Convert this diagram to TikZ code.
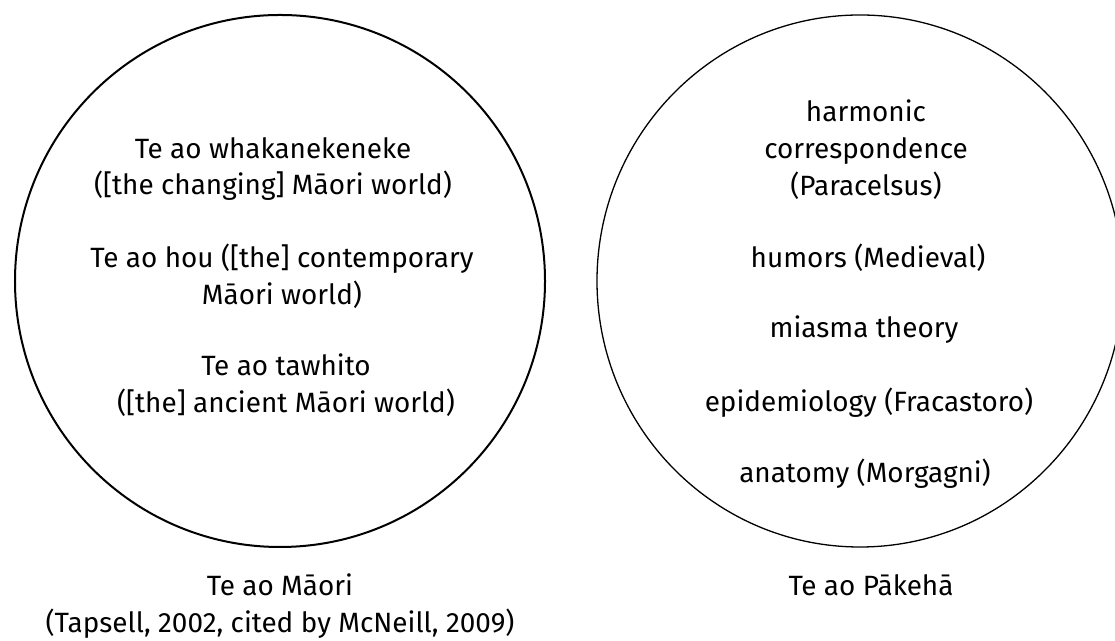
\documentclass[tikz,border=0pt]{standalone}
\usepackage{fontspec}
\setmainfont{Fira Sans}
\usetikzlibrary{shapes.geometric}

\begin{document}
\begin{tikzpicture}[x=1bp, y=1bp,
    world/.style = {
      draw,
      ellipse,
      inner sep = 0pt
    },
    txt/.style = {
      align = center,
      inner sep = 0pt,
      font = \fontsize{28}{37}\selectfont
    }
  ]
  \clip (0,0) rectangle (1115,641);

  % the two worlds
  \node[world, line width=2bp, minimum width=530bp, minimum height=532bp] (maori) at (280,360) {};
  \node[world, line width=1.3bp, minimum width=526bp, minimum height=532bp] (pakeha) at (860,360) {};

  % Te ao Maori
  \node[txt] (changing) at (273,472) {Te ao whakanekeneke\\([the changing] Māori world)};
  \node[txt] (hou)      at (282,365) {Te ao hou ([the] contemporary\\Māori world)};
  \node[txt] (tawhito)  at (286,256) {Te ao tawhito\\([the] ancient Māori world)};
  \node[txt] (maorilbl) at (280,35)  {Te ao Māori\\(Tapsell, 2002, cited by McNeill, 2009)};

  % Te ao Pakeha
  \node[txt] (harmonic) at (866,491) {harmonic\\correspondence\\(Paracelsus)};
  \node[txt] (humors)   at (868,383) {humors (Medieval)};
  \node[txt] (miasma)   at (864,311) {miasma theory};
  \node[txt] (epidem)   at (869,238) {epidemiology (Fracastoro)};
  \node[txt] (anatomy)  at (865,167) {anatomy (Morgagni)};
  \node[txt] (pakehalbl) at (871,56) {Te ao Pākehā};
\end{tikzpicture}
\end{document}
